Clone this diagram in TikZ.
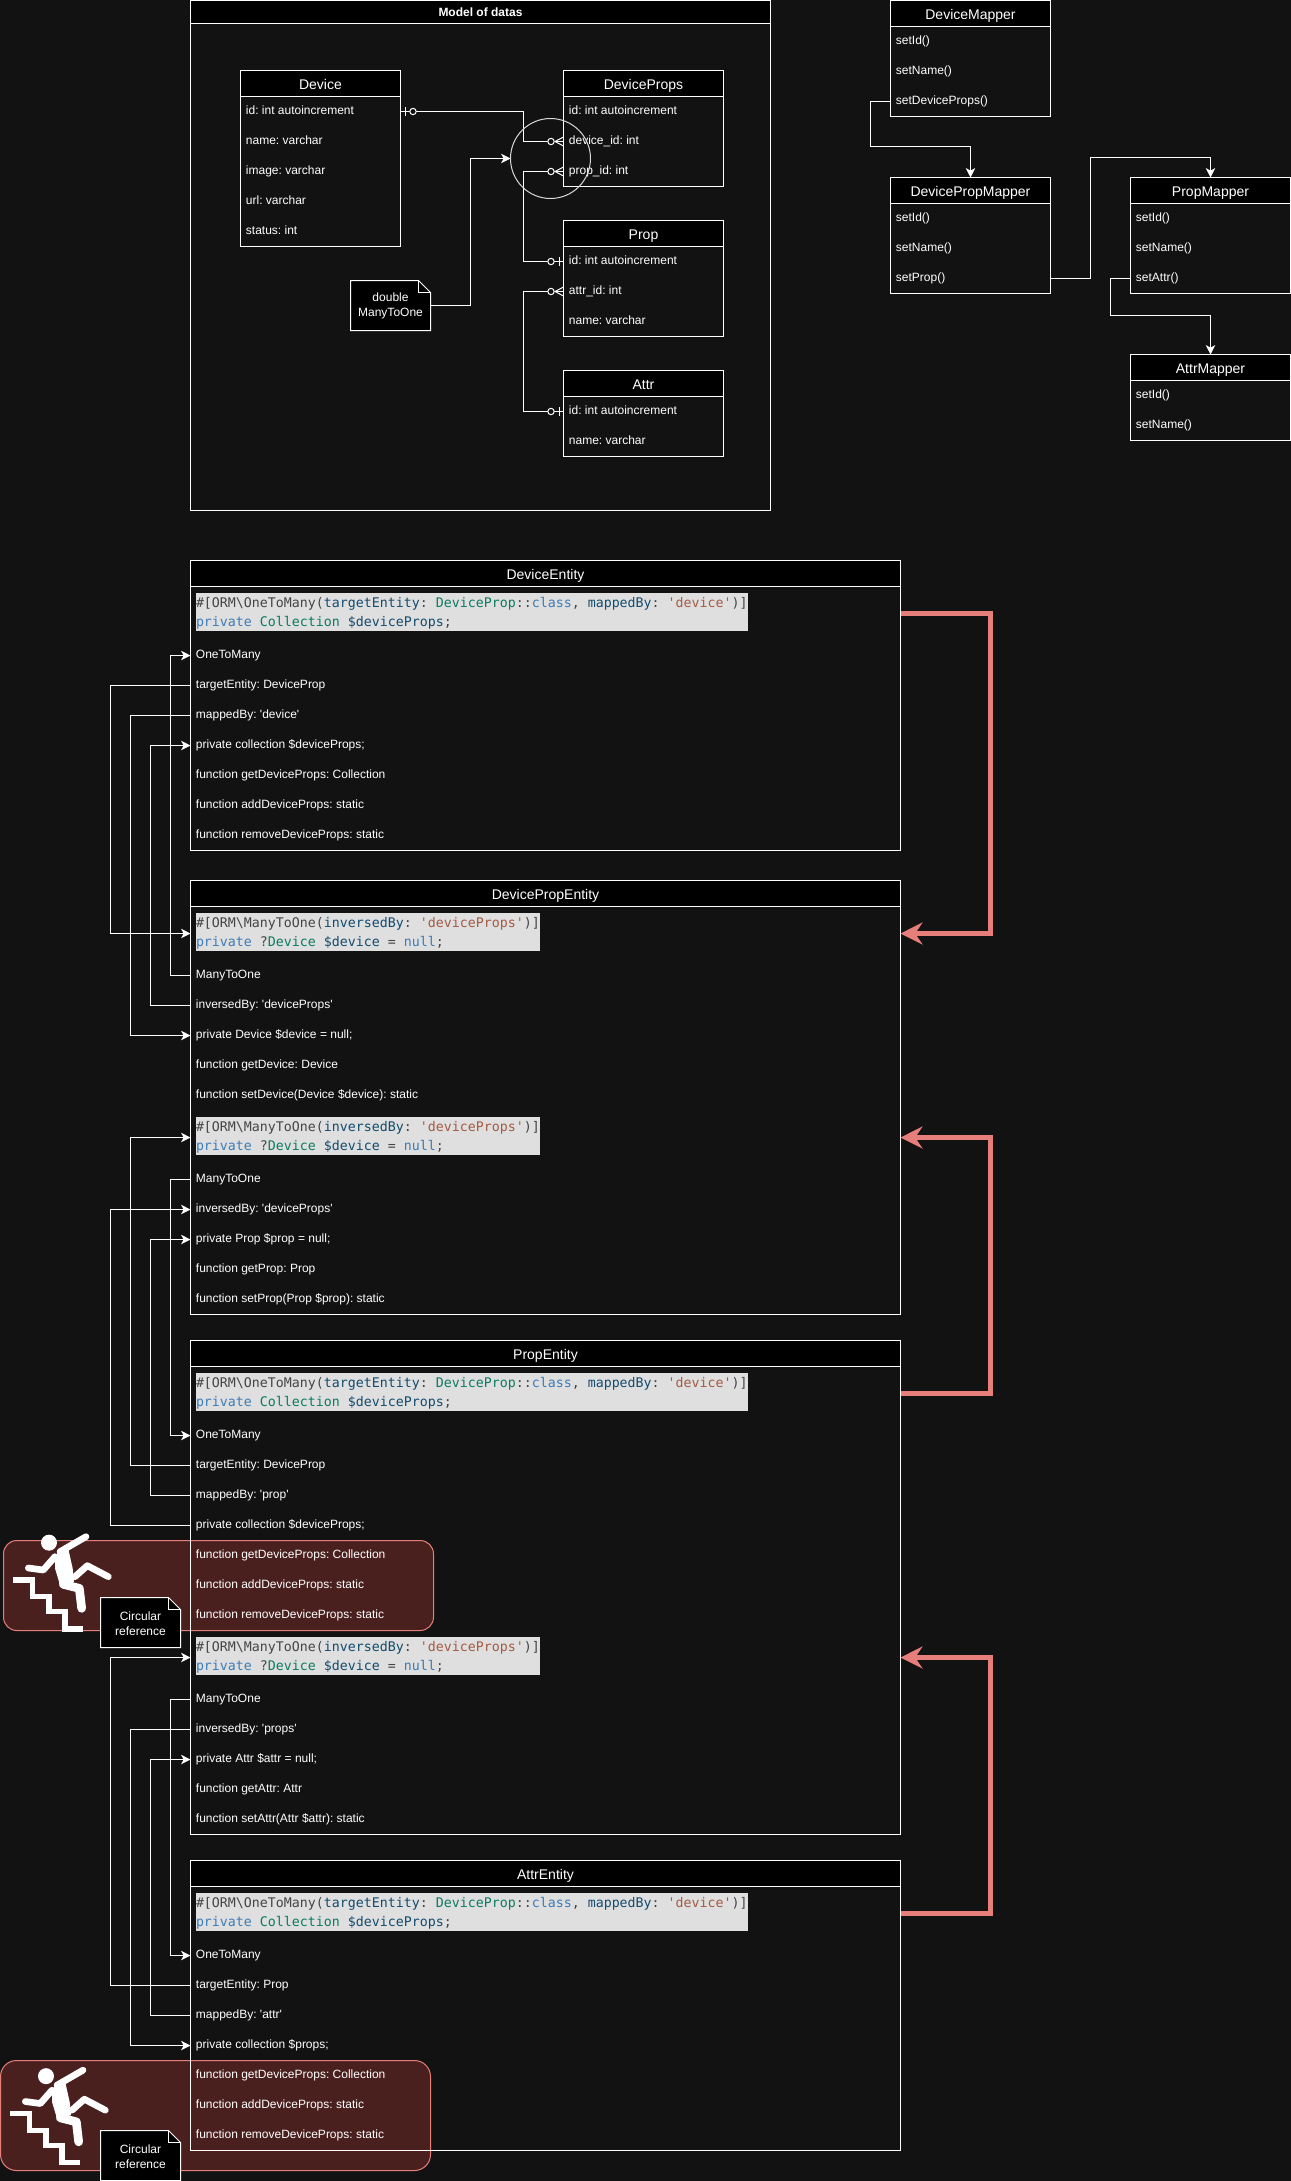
\documentclass[tikz,border=0pt]{standalone}
\usepackage{fontspec}
\setmainfont{Liberation Sans}
\setmonofont{DejaVu Sans Mono}
\usetikzlibrary{arrows.meta}

\definecolor{pagedark}{HTML}{121212}
\definecolor{codepaper}{HTML}{DFDFDF}
\definecolor{codeplain}{HTML}{444444}
\definecolor{codekey}{HTML}{3A7CB8}
\definecolor{codetype}{HTML}{0B7A60}
\definecolor{codevar}{HTML}{114B6E}
\definecolor{codestr}{HTML}{A35A42}
\definecolor{dangerfill}{HTML}{4A201F}
\definecolor{dangerline}{HTML}{E67F7A}

\newcommand{\sq}{\textquotesingle}
\newcommand{\ckey}[1]{\textcolor{codekey}{#1}}
\newcommand{\ctype}[1]{\textcolor{codetype}{#1}}
\newcommand{\cvar}[1]{\textcolor{codevar}{#1}}
\newcommand{\cstr}[1]{\textcolor{codestr}{#1}}
\newcommand{\oneManyCode}{\rule{0pt}{9.1pt}\#[ORM\textbackslash OneToMany(\cvar{targetEntity}: \ctype{DeviceProp}::\ckey{class}, \cvar{mappedBy}: \cstr{\sq device\sq})]\\\ckey{private} \ctype{Collection} \cvar{\$deviceProps};}
\newcommand{\manyOneCode}{\rule{0pt}{9.1pt}\#[ORM\textbackslash ManyToOne(\cvar{inversedBy}: \cstr{\sq deviceProps\sq})]\\\ckey{private} ?\ctype{Device} \cvar{\$device} = \ckey{null};}

% note with a folded corner: name, centre, text
\newcommand{\notebox}[3]{%
\draw[bodyline,fill=black] #2 ++(-40,-25) -- ++(68,0) -- ++(12,12) -- ++(0,38) -- ++(-80,0) -- cycle;
\draw[bodyline] #2 ++(28,-25) -- ++(0,12) -- ++(12,0);
\node[notetext] (#1) at #2 {\rule{0pt}{7.6pt}#3};}

\tikzset{
bodyline/.style={draw=white,line width=0.75pt},
tablebody/.style={bodyline,anchor=north west,outer sep=0pt,minimum width=120pt,minimum height=#1},
entitybody/.style={bodyline,anchor=north west,outer sep=0pt,minimum width=532.5pt,minimum height=#1},
tabletitle/.style={bodyline,fill=black,text=white,anchor=north west,outer sep=0pt,inner sep=0pt,minimum width=120pt,minimum height=19.5pt,font=\fontsize{10.5}{12}\selectfont\frenchspacing,text height=9pt,text depth=0.4pt},
entitytitle/.style={tabletitle,minimum width=532.5pt},
modeltitle/.style={tabletitle,minimum width=435pt,minimum height=17.25pt,font=\fontsize{9}{11}\selectfont\bfseries\frenchspacing,text height=7.4pt,text depth=0.2pt},
tablerow/.style={text=white,anchor=west,outer sep=0pt,inner xsep=4.1pt,inner ysep=0pt,text width=111.8pt,minimum height=22.5pt,align=flush left,font=\fontsize{9}{11}\selectfont\frenchspacing,text height=6.7pt,text depth=2.5pt},
entityrow/.style={tablerow,text width=524.3pt},
coderow/.style={entityrow,minimum height=40.5pt},
codeblock/.style={fill=codepaper,text=codeplain,anchor=west,outer sep=0pt,inner sep=0pt,minimum height=28.5pt,align=flush left,font=\fontsize{9.96}{14.25}\selectfont\ttfamily},
notetext/.style={text=white,outer sep=0pt,inner sep=0pt,minimum width=60pt,minimum height=37.5pt,align=flush center,font=\fontsize{9}{11.25}\selectfont},
link/.style={bodyline,-{Stealth[length=7pt,width=7pt,inset=1.8pt]}},
wire/.style={bodyline},
redlink/.style={draw=dangerline,line width=3.75pt,-{Stealth[length=16.5pt,width=16.5pt,inset=5.5pt]}},
dangerbox/.style={draw=dangerline,fill=dangerfill,line width=0.75pt,anchor=north west,outer sep=0pt,minimum width=322.5pt},
pics/zeroMany/.style={code={
\draw[wire] (-8.5,0) -- (0,-4.5) (-8.5,0) -- (0,4.5);
\draw[wire,fill=pagedark] (-12.5,0) circle (3.2);
}},
pics/zeroOne/.style={code={
\draw[wire] (-4.5,-4.5) -- (-4.5,4.5);
\draw[wire,fill=pagedark] (-12.5,0) circle (3.2);
}},
pics/fallman/.style={code={
\begin{scope}[x=0.25pt,y=-0.25pt,white]
\fill (147,53) circle (24);
\draw[line width=4pt,miter limit=4] (40,165) -- (97,165) -- (97,215) -- (147,215) -- (147,260) -- (195,260) -- (195,312) -- (250,312);
\draw[line width=5pt,line cap=round,line join=round] (258,35) -- (180,80);
\draw[line width=5pt,line cap=round,line join=round] (85,129) -- (130,135) -- (165,95);
\fill (165,95) -- (180,72) -- (205,72) -- (218,130) -- (222,170) -- (180,180) -- (165,130) -- cycle;
\draw[line width=5pt,line cap=round,line join=round] (225,155) -- (262,122) -- (325,155);
\draw[line width=6.5pt,line cap=round,line join=round] (190,178) -- (238,190) -- (245,250);
\end{scope}
}},
}

\begin{document}
\begin{tikzpicture}[x=0.75pt,y=-0.75pt]
\useasboundingbox (0,0) rectangle (1291,2181);
\fill[pagedark] (0,0) rectangle (1291,2181);

% danger areas lie under the entities
\node[dangerbox,rounded corners=10pt,minimum height=67.5pt] (fallOne) at (3.5,1540.5) {};
\node[dangerbox,rounded corners=12pt,minimum height=82.5pt] (fallTwo) at (0.5,2060.5) {};

% model of datas
\node[tablebody=382.5pt,minimum width=435pt] (modelBody) at (190.5,0.5) {};
\node[modeltitle] (modelTitle) at (190.5,0.5) {Model of datas};

\node[tablebody=132pt] (deviceBody) at (240.5,70.5) {};
\node[tabletitle] (deviceTitle) at (240.5,70.5) {Device};
\node[tablerow] (deviceId) at (240.5,111.5) {id: int autoincrement};
\node[tablerow] (deviceName) at (240.5,141.5) {name: varchar};
\node[tablerow] (deviceImage) at (240.5,171.5) {image: varchar};
\node[tablerow] (deviceUrl) at (240.5,201.5) {url: varchar};
\node[tablerow] (deviceStatus) at (240.5,231.5) {status: int};

\node[tablebody=87pt] (dpBody) at (563.5,70.5) {};
\node[tabletitle] (dpTitle) at (563.5,70.5) {DeviceProps};
\node[tablerow] (dpId) at (563.5,111.5) {id: int autoincrement};
\node[tablerow] (dpDeviceId) at (563.5,141.5) {device\_id: int};
\node[tablerow] (dpPropId) at (563.5,171.5) {prop\_id: int};

\node[tablebody=87pt] (propBody) at (563.5,220.5) {};
\node[tabletitle] (propTitle) at (563.5,220.5) {Prop};
\node[tablerow] (propId) at (563.5,261.5) {id: int autoincrement};
\node[tablerow] (propAttrId) at (563.5,291.5) {attr\_id: int};
\node[tablerow] (propName) at (563.5,321.5) {name: varchar};

\node[tablebody=64.5pt] (attrBody) at (563.5,370.5) {};
\node[tabletitle] (attrTitle) at (563.5,370.5) {Attr};
\node[tablerow] (attrId) at (563.5,411.5) {id: int autoincrement};
\node[tablerow] (attrName) at (563.5,441.5) {name: varchar};

\draw[wire] (deviceId.east) -- ++(123,0) |- (dpDeviceId.west);
\draw[wire] (propId.west) -- ++(-40,0) |- (dpPropId.west);
\draw[wire] (attrId.west) -- ++(-40,0) |- (propAttrId.west);
\pic[rotate=180] at (deviceId.east) {zeroOne};
\pic at (dpDeviceId.west) {zeroMany};
\pic at (dpPropId.west) {zeroMany};
\pic at (propId.west) {zeroOne};
\pic at (propAttrId.west) {zeroMany};
\pic at (attrId.west) {zeroOne};

\node[circle,draw=white!85!black,line width=0.75pt,outer sep=0pt,inner sep=0pt,minimum size=60pt] (ringDouble) at (550.5,158.5) {};
\notebox{noteDouble}{(390.5,305.5)}{double\\ManyToOne}
\draw[link] (noteDouble.east) -- ++(40,0) |- (ringDouble.west);

% mappers
\node[tablebody=87pt] (dmBody) at (890.5,0.5) {};
\node[tabletitle] (dmTitle) at (890.5,0.5) {DeviceMapper};
\node[tablerow] (dmId) at (890.5,41.5) {setId()};
\node[tablerow] (dmName) at (890.5,71.5) {setName()};
\node[tablerow] (dmProps) at (890.5,101.5) {setDeviceProps()};

\node[tablebody=87pt] (dpmBody) at (890.5,177.5) {};
\node[tabletitle] (dpmTitle) at (890.5,177.5) {DevicePropMapper};
\node[tablerow] (dpmId) at (890.5,218.5) {setId()};
\node[tablerow] (dpmName) at (890.5,248.5) {setName()};
\node[tablerow] (dpmProp) at (890.5,278.5) {setProp()};

\node[tablebody=87pt] (pmBody) at (1130.5,177.5) {};
\node[tabletitle] (pmTitle) at (1130.5,177.5) {PropMapper};
\node[tablerow] (pmId) at (1130.5,218.5) {setId()};
\node[tablerow] (pmName) at (1130.5,248.5) {setName()};
\node[tablerow] (pmAttr) at (1130.5,278.5) {setAttr()};

\node[tablebody=64.5pt] (amBody) at (1130.5,354.5) {};
\node[tabletitle] (amTitle) at (1130.5,354.5) {AttrMapper};
\node[tablerow] (amId) at (1130.5,395.5) {setId()};
\node[tablerow] (amName) at (1130.5,425.5) {setName()};

\draw[link] (dmProps.west) -- ++(-20,0) -- ++(0,45) -| (dpmTitle.north);
\draw[link] (dpmProp.east) -- ++(40,0) -- ++(0,-121) -| (pmTitle.north);
\draw[link] (pmAttr.west) -- ++(-20,0) -- ++(0,37) -| (amTitle.north);

% DeviceEntity
\node[entitybody=217.5pt] (deBody) at (190.5,560.5) {};
\node[entitytitle] (deTitle) at (190.5,560.5) {DeviceEntity};
\node[coderow] (deCodeRow) at (190.5,613.5) {};
\node[codeblock,text width=414pt] (deCode) at (196,612) {\oneManyCode};
\node[entityrow] (deOneMany) at (190.5,655.5) {OneToMany};
\node[entityrow] (deTarget) at (190.5,685.5) {targetEntity: DeviceProp};
\node[entityrow] (deMapped) at (190.5,715.5) {mappedBy: \sq device\sq};
\node[entityrow] (dePrivate) at (190.5,745.5) {private collection \$deviceProps;};
\node[entityrow] (deGet) at (190.5,775.5) {function getDeviceProps: Collection};
\node[entityrow] (deAdd) at (190.5,805.5) {function addDeviceProps: static};
\node[entityrow] (deRemove) at (190.5,835.5) {function removeDeviceProps: static};

% DevicePropEntity
\node[entitybody=325.5pt] (dpeBody) at (190.5,880.5) {};
\node[entitytitle] (dpeTitle) at (190.5,880.5) {DevicePropEntity};
\node[coderow] (dpeCodeRowA) at (190.5,933.5) {};
\node[codeblock,text width=258pt] (dpeCodeA) at (196,932) {\manyOneCode};
\node[entityrow] (dpeManyA) at (190.5,975.5) {ManyToOne};
\node[entityrow] (dpeInvA) at (190.5,1005.5) {inversedBy: \sq deviceProps\sq};
\node[entityrow] (dpePrivA) at (190.5,1035.5) {private Device \$device = null;};
\node[entityrow] (dpeGetA) at (190.5,1065.5) {function getDevice: Device};
\node[entityrow] (dpeSetA) at (190.5,1095.5) {function setDevice(Device \$device): static};
\node[coderow] (dpeCodeRowB) at (190.5,1137.5) {};
\node[codeblock,text width=258pt] (dpeCodeB) at (196,1136) {\manyOneCode};
\node[entityrow] (dpeManyB) at (190.5,1179.5) {ManyToOne};
\node[entityrow] (dpeInvB) at (190.5,1209.5) {inversedBy: \sq deviceProps\sq};
\node[entityrow] (dpePrivB) at (190.5,1239.5) {private Prop \$prop = null;};
\node[entityrow] (dpeGetB) at (190.5,1269.5) {function getProp: Prop};
\node[entityrow] (dpeSetB) at (190.5,1299.5) {function setProp(Prop \$prop): static};

% PropEntity
\node[entitybody=370.5pt] (peBody) at (190.5,1340.5) {};
\node[entitytitle] (peTitle) at (190.5,1340.5) {PropEntity};
\node[coderow] (peCodeRowA) at (190.5,1393.5) {};
\node[codeblock,text width=414pt] (peCodeA) at (196,1392) {\oneManyCode};
\node[entityrow] (peOneMany) at (190.5,1435.5) {OneToMany};
\node[entityrow] (peTarget) at (190.5,1465.5) {targetEntity: DeviceProp};
\node[entityrow] (peMapped) at (190.5,1495.5) {mappedBy: \sq prop\sq};
\node[entityrow] (pePrivate) at (190.5,1525.5) {private collection \$deviceProps;};
\node[entityrow] (peGet) at (190.5,1555.5) {function getDeviceProps: Collection};
\node[entityrow] (peAdd) at (190.5,1585.5) {function addDeviceProps: static};
\node[entityrow] (peRemove) at (190.5,1615.5) {function removeDeviceProps: static};
\node[coderow] (peCodeRowB) at (190.5,1657.5) {};
\node[codeblock,text width=258pt] (peCodeB) at (196,1656) {\manyOneCode};
\node[entityrow] (peMany) at (190.5,1699.5) {ManyToOne};
\node[entityrow] (peInv) at (190.5,1729.5) {inversedBy: \sq props\sq};
\node[entityrow] (pePrivAttr) at (190.5,1759.5) {private Attr \$attr = null;};
\node[entityrow] (peGetAttr) at (190.5,1789.5) {function getAttr: Attr};
\node[entityrow] (peSetAttr) at (190.5,1819.5) {function setAttr(Attr \$attr): static};

% AttrEntity
\node[entitybody=217.5pt] (aeBody) at (190.5,1860.5) {};
\node[entitytitle] (aeTitle) at (190.5,1860.5) {AttrEntity};
\node[coderow] (aeCodeRow) at (190.5,1913.5) {};
\node[codeblock,text width=414pt] (aeCode) at (196,1912) {\oneManyCode};
\node[entityrow] (aeOneMany) at (190.5,1955.5) {OneToMany};
\node[entityrow] (aeTarget) at (190.5,1985.5) {targetEntity: Prop};
\node[entityrow] (aeMapped) at (190.5,2015.5) {mappedBy: \sq attr\sq};
\node[entityrow] (aePrivate) at (190.5,2045.5) {private collection \$props;};
\node[entityrow] (aeGet) at (190.5,2075.5) {function getDeviceProps: Collection};
\node[entityrow] (aeAdd) at (190.5,2105.5) {function addDeviceProps: static};
\node[entityrow] (aeRemove) at (190.5,2135.5) {function removeDeviceProps: static};

% links between the entity members
\draw[link] (dpeManyA.west) -- ++(-20,0) |- (deOneMany.west);
\draw[link] (deTarget.west) -- ++(-80,0) |- (dpeCodeRowA.west);
\draw[link] (deMapped.west) -- ++(-60,0) |- (dpePrivA.west);
\draw[link] (dpeInvA.west) -- ++(-40,0) |- (dePrivate.west);

\draw[link] (dpeManyB.west) -- ++(-20,0) |- (peOneMany.west);
\draw[link] (peTarget.west) -- ++(-60,0) |- (dpeCodeRowB.west);
\draw[link] (peMapped.west) -- ++(-40,0) |- (dpePrivB.west);
\draw[link] (pePrivate.west) -- ++(-80,0) |- (dpeInvB.west);

\draw[link] (peMany.west) -- ++(-20,0) |- (aeOneMany.west);
\draw[link] (peInv.west) -- ++(-60,0) |- (aePrivate.west);
\draw[link] (aeMapped.west) -- ++(-40,0) |- (pePrivAttr.west);
\draw[link] (aeTarget.west) -- ++(-80,0) |- (peCodeRowB.west);

\draw[redlink] (deCodeRow.east) -- ++(90,0) |- (dpeCodeRowA.east);
\draw[redlink] (peCodeRowA.east) -- ++(90,0) |- (dpeCodeRowB.east);
\draw[redlink] (aeCodeRow.east) -- ++(90,0) |- (peCodeRowB.east);

% circular references
\pic at (0,1525) {fallman};
\notebox{noteCircOne}{(140.5,1622.5)}{Circular\\reference}
\pic at (-3,2058.5) {fallman};
\notebox{noteCircTwo}{(140.5,2155.5)}{Circular\\reference}
\end{tikzpicture}
\end{document}
